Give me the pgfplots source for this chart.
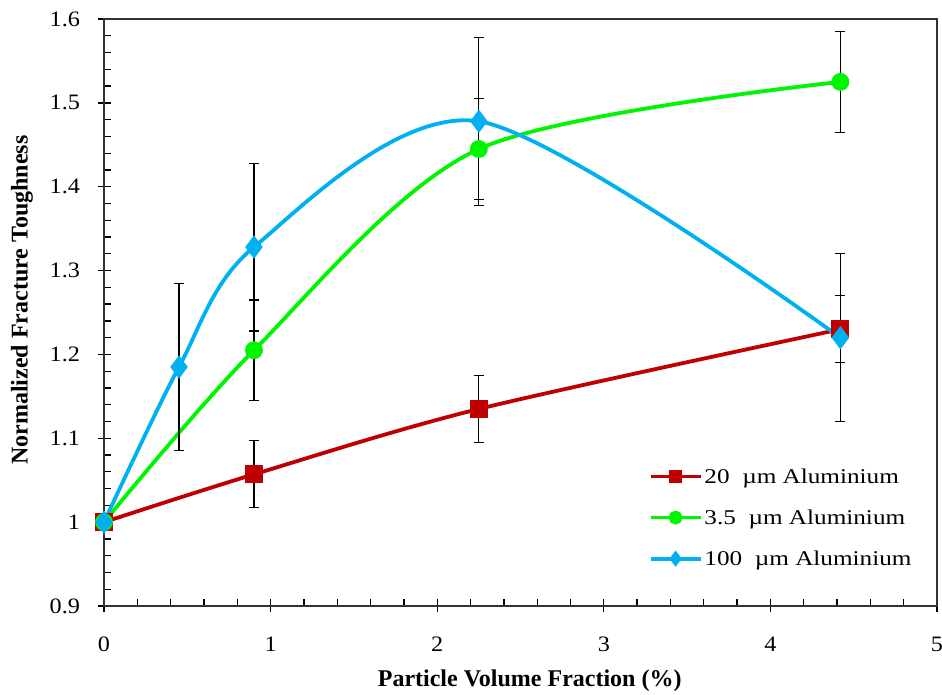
\documentclass[border=0pt]{standalone}
\usepackage{pgfplots}
\pgfplotsset{compat=1.18}
\usepackage{fontspec}
\setmainfont{Liberation Serif}
\newfontfamily\legfont{Liberation Serif}[FakeStretch=1.2]
\newfontfamily\ticfont{Liberation Serif}[FakeStretch=1.1]

\definecolor{redA}{RGB}{192,0,0}
\definecolor{greenA}{RGB}{0,245,0}
\definecolor{blueA}{RGB}{0,176,240}

\begin{document}
\begin{tikzpicture}
\begin{axis}[
  scale only axis,
  width=833pt, height=587pt,
  xmin=0, xmax=5, ymin=0.9, ymax=1.6,
  xtick={0,1,2,3,4,5}, ytick={0.9,1,1.1,1.2,1.3,1.4,1.5,1.6},
  minor x tick num=4, minor y tick num=4,
  tick pos=left, tick align=center,
  major tick length=13pt, minor tick length=7pt,
  every tick/.style={black, line width=1.3pt},
  every minor x tick/.append style={yshift=3.5pt},
  every minor y tick/.append style={xshift=3.5pt},
  axis line style={line width=1.3pt, black!80},
  /pgf/number format/assume math mode=true,
  ticklabel style={font=\ticfont\fontsize{22}{26}\selectfont},
  xticklabel style={yshift=-21pt},
  yticklabel style={xshift=-14pt},
  xlabel={\textbf{Particle Volume Fraction (\%)}},
  ylabel={\textbf{Normalized Fracture Toughness}},
  label style={font=\fontsize{24}{28}\selectfont},
  xlabel style={at={(axis description cs:0.511,-0.128)}, anchor=center},
  ylabel style={at={(axis description cs:-0.0984,0.521)}, anchor=center, rotate=0},
  clip=false,
  legend cell align=left,
  legend style={draw=none, fill=none, at={(axis cs:3.25,1.069)}, anchor=north west,
    font=\legfont\fontsize{21}{25}\selectfont, row sep=21pt},
  legend image code/.code={%
    \draw[mark repeat=2, mark phase=2, #1, mark size=5pt]
      plot coordinates {(0pt,0pt) (25pt,0pt) (50pt,0pt)};},
  error bars/y dir=both, error bars/y explicit,
  error bars/error bar style={black, line width=1.2pt},
  error bars/error mark options={black, rotate=90, mark size=5pt, line width=1.2pt},
]
\coordinate (frameSW) at (rel axis cs:-0.1249,-0.1516);
\coordinate (frameNE) at (rel axis cs:1.006,1.0324);

% 20 um particles
\addplot[color=redA, line width=3.8pt, smooth, mark=square*, mark size=7pt,
  mark options={fill=redA, draw=redA}]
  coordinates {(0,1.000) +- (0,0) (0.9,1.057) +- (0,0.04) (2.25,1.135) +- (0,0.04) (4.42,1.230) +- (0,0.04)};
\addlegendentry{20\ \ µm Aluminium}

% 3.5 um particles
\addplot[color=greenA, line width=3.8pt, smooth, mark=*, mark size=7pt,
  mark options={fill=greenA, draw=greenA}]
  coordinates {(0,1.000) +- (0,0) (0.9,1.205) +- (0,0.06) (2.25,1.445) +- (0,0.06) (4.42,1.525) +- (0,0.06)};
\addlegendentry{3.5\ \ µm Aluminium}

% 100 um particles
\addplot[color=blueA, line width=3.8pt, smooth, mark=diamond*, mark size=8.5pt,
  mark options={fill=blueA, draw=blueA}]
  coordinates {(0,1.000) +- (0,0) (0.45,1.185) +- (0,0.1) (0.9,1.328) +- (0,0.1) (2.25,1.478) +- (0,0.1) (4.42,1.220) +- (0,0.1)};
\addlegendentry{100\ \ µm Aluminium}
\end{axis}
% page frame: the last tick label runs past the right edge
\pgfresetboundingbox
\path (frameSW) rectangle (frameNE);
\end{tikzpicture}
\end{document}
